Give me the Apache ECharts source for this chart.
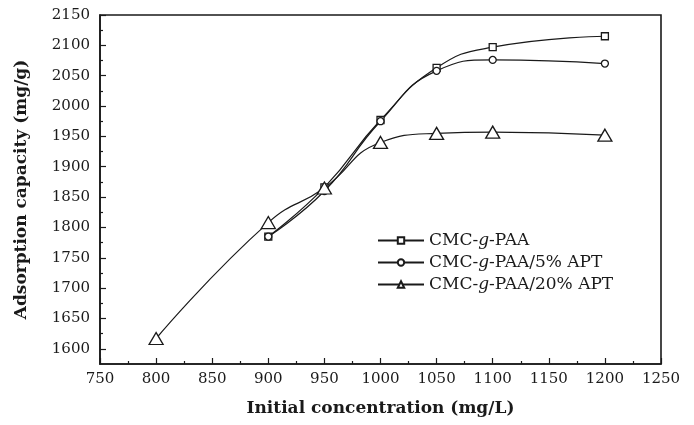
<!DOCTYPE html>
<html>
<head>
<meta charset="utf-8">
<script src="https://cdn.jsdelivr.net/npm/echarts@6/dist/echarts.min.js"></script>
<style>
  html, body { margin: 0; padding: 0; background: #fff; }
  #chart { width: 694px; height: 425px; }
</style>
</head>
<body>
<div id="chart"></div>
<script>
// Adsorption capacity vs. initial concentration for three hydrogels
const seriesNames = ['CMC-g-PAA', 'CMC-g-PAA/5% APT', 'CMC-g-PAA/20% APT'];

const concPaa = [900, 950, 1000, 1050, 1100, 1200];
const capPaa = [1785, 1866, 1977, 2063, 2097, 2115];

const concApt5 = [900, 950, 1000, 1050, 1100, 1200];
const capApt5 = [1785, 1860, 1975, 2058, 2076, 2070];

const concApt20 = [800, 900, 950, 1000, 1050, 1100, 1200];
const capApt20 = [1617, 1808, 1865, 1940, 1955, 1957, 1952];

// y-axis labelled ticks and the minor ticks between them
const yMajorTicks = [1600, 1650, 1700, 1750, 1800, 1850, 1900, 1950, 2000, 2050, 2100, 2150];
const yMinorTicks = [1625, 1675, 1725, 1775, 1825, 1875, 1925, 1975, 2025, 2075, 2125];

const ink = '#1a1a1a';
const serif = '"DejaVu Serif", "Liberation Serif", serif';

function pairs(xs, ys) {
  return xs.map((x, i) => [x, ys[i]]);
}

const plain = v => String(v);

const chart = echarts.init(document.getElementById('chart'), null, { renderer: 'canvas' });

const lineCommon = {
  type: 'line',
  smooth: 0.5,
  showAllSymbol: true,
  lineStyle: { color: ink, width: 1.2 },
  itemStyle: { color: '#fff', borderColor: ink, borderWidth: 1.3 },
  emphasis: { disabled: true },
  animation: false
};

chart.setOption({
  backgroundColor: '#fff',
  animation: false,
  grid: {
    left: 100, right: 33, top: 15, bottom: 61,
    show: true, borderColor: ink, borderWidth: 1.6, backgroundColor: 'transparent'
  },
  legend: {
    orient: 'vertical',
    left: 372, top: 227,
    itemWidth: 46, itemHeight: 8, itemGap: 5,
    data: seriesNames,
    formatter: name => name.replace('-g-', '-{it|g}-'),
    textStyle: {
      fontFamily: serif, fontSize: 17, color: ink,
      rich: { it: { fontFamily: serif, fontSize: 17, fontStyle: 'italic', color: ink } }
    }
  },
  xAxis: {
    type: 'value',
    min: 750, max: 1250, interval: 50,
    name: 'Initial concentration (mg/L)',
    nameLocation: 'middle', nameGap: 36,
    nameTextStyle: { fontFamily: serif, fontSize: 17, fontWeight: 'bold', color: ink },
    axisLine: { show: true, lineStyle: { color: ink, width: 1.6 } },
    axisTick: { show: true, inside: true, length: 6, lineStyle: { color: ink, width: 1.2 } },
    minorTick: { show: true, splitNumber: 2, length: 3, lineStyle: { color: ink, width: 1.2 } },
    axisLabel: { fontFamily: serif, fontSize: 15, color: ink, margin: 8, showMinLabel: true, showMaxLabel: true, formatter: plain },
    splitLine: { show: false }
  },
  yAxis: [
    {
      type: 'value',
      min: 1575, max: 2150,
      position: 'left',
      name: 'Adsorption capacity (mg/g)',
      nameLocation: 'middle', nameGap: 70,
      nameTextStyle: { fontFamily: serif, fontSize: 17, fontWeight: 'bold', color: ink },
      axisLine: { show: true, lineStyle: { color: ink, width: 1.6 } },
      axisTick: { show: true, inside: true, length: 6, customValues: yMajorTicks, lineStyle: { color: ink, width: 1.2 } },
      axisLabel: { fontFamily: serif, fontSize: 15, color: ink, margin: 10, customValues: yMajorTicks, formatter: plain },
      splitLine: { show: false }
    },
    {
      type: 'value',
      min: 1575, max: 2150,
      position: 'left', offset: 0,
      axisLine: { show: false },
      axisTick: { show: true, inside: true, length: 3, customValues: yMinorTicks, lineStyle: { color: ink, width: 1.2 } },
      axisLabel: { show: false },
      splitLine: { show: false }
    }
  ],
  series: [
    Object.assign({}, lineCommon, {
      name: seriesNames[0],
      symbol: 'rect', symbolSize: 7,
      data: pairs(concPaa, capPaa)
    }),
    Object.assign({}, lineCommon, {
      name: seriesNames[1],
      symbol: 'circle', symbolSize: 7,
      data: pairs(concApt5, capApt5)
    }),
    Object.assign({}, lineCommon, {
      name: seriesNames[2],
      symbol: 'triangle', symbolSize: [14, 12],
      data: pairs(concApt20, capApt20)
    })
  ]
});
</script>
</body>
</html>
